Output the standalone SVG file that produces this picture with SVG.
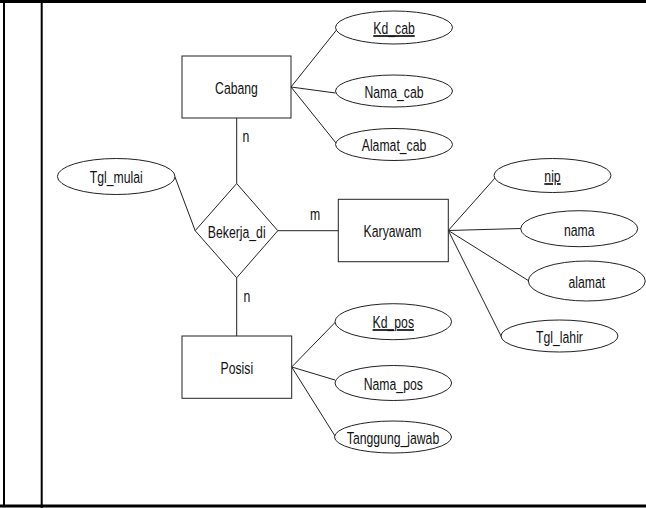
<svg xmlns="http://www.w3.org/2000/svg" width="646" height="508" viewBox="0 0 646 508">
  <style>
    .frame { stroke: #000; fill: none; }
    .ent { fill: #fff; stroke: #222; stroke-width: 1; }
    .attr { fill: #fff; stroke: #222; stroke-width: 1; }
    .edge { stroke: #222; stroke-width: 1; fill: none; }
    text { font-family: "Liberation Sans", Arial, sans-serif; font-size: 17px; fill: #111; text-anchor: middle; }
    .key { text-decoration: underline; }
  </style>

  <rect width="646" height="508" fill="#fff"/>

  <!-- page frame -->
  <g id="frame" class="frame">
    <line x1="0" y1="1.5" x2="646" y2="1.5" stroke-width="3"/>
    <line x1="0" y1="506" x2="646" y2="506" stroke-width="3"/>
    <line x1="4" y1="0" x2="4" y2="506" stroke-width="2"/>
    <line x1="41.7" y1="0" x2="41.7" y2="508" stroke-width="2"/>
  </g>

  <!-- connectors -->
  <g id="connectors" class="edge">
    <line x1="291" y1="87" x2="336.5" y2="30"/>
    <line x1="291" y1="87" x2="335.5" y2="93"/>
    <line x1="291" y1="87" x2="336" y2="143"/>
    <line x1="236.7" y1="118" x2="236.7" y2="183.5"/>
    <line x1="175" y1="177" x2="195.2" y2="230.7"/>
    <line x1="277.8" y1="230.7" x2="338" y2="230.7"/>
    <line x1="236.7" y1="277.8" x2="236.7" y2="336"/>
    <line x1="448.3" y1="230.5" x2="495" y2="178"/>
    <line x1="448.3" y1="230.5" x2="521" y2="228.5"/>
    <line x1="448.3" y1="230.5" x2="529" y2="281"/>
    <line x1="448.3" y1="230.5" x2="502" y2="338"/>
    <line x1="291.7" y1="367" x2="335.5" y2="322"/>
    <line x1="291.7" y1="367" x2="335" y2="380"/>
    <line x1="291.7" y1="367" x2="335" y2="436"/>
  </g>

  <!-- cardinality labels (condensed via horizontal scale) -->
  <g id="labels">
    <text transform="translate(246,142) scale(0.72,1)">n</text>
    <text transform="translate(315,220) scale(0.72,1)">m</text>
    <text transform="translate(247,301.5) scale(0.72,1)">n</text>
  </g>

  <!-- entities -->
  <g id="cabang">
    <rect class="ent" x="182" y="56" width="109" height="62"/>
    <text transform="translate(236.5,94) scale(0.72,1)">Cabang</text>
  </g>
  <g id="karyawam">
    <rect class="ent" x="338.3" y="199.3" width="110" height="62.4"/>
    <text transform="translate(392.5,237) scale(0.72,1)">Karyawam</text>
  </g>
  <g id="posisi">
    <rect class="ent" x="182" y="336" width="109.7" height="62.3"/>
    <text transform="translate(236.8,373.5) scale(0.72,1)">Posisi</text>
  </g>

  <!-- relationship -->
  <g id="bekerja_di">
    <polygon class="ent" points="236.7,183.5 277.8,230.7 236.7,277.8 195.2,230.7"/>
    <text transform="translate(236.7,237.5) scale(0.72,1)">Bekerja_di</text>
  </g>

  <!-- attributes -->
  <g id="kd_cab">
    <ellipse class="attr" cx="394" cy="27.5" rx="58.5" ry="16.5"/>
    <text class="key" transform="translate(394,34) scale(0.72,1)">Kd_cab</text>
  </g>
  <g id="nama_cab">
    <ellipse class="attr" cx="394" cy="91" rx="58.5" ry="16"/>
    <text transform="translate(394,97.5) scale(0.72,1)">Nama_cab</text>
  </g>
  <g id="alamat_cab">
    <ellipse class="attr" cx="394" cy="144.5" rx="58.5" ry="16"/>
    <text transform="translate(394,151) scale(0.72,1)">Alamat_cab</text>
  </g>
  <g id="tgl_mulai">
    <ellipse class="attr" cx="116.2" cy="176.5" rx="58.8" ry="18"/>
    <text transform="translate(116.2,183) scale(0.72,1)">Tgl_mulai</text>
  </g>
  <g id="nip">
    <ellipse class="attr" cx="552.5" cy="175.5" rx="58.5" ry="17"/>
    <text class="key" transform="translate(552.5,182) scale(0.72,1)">nip</text>
  </g>
  <g id="nama">
    <ellipse class="attr" cx="579.2" cy="228.7" rx="58.5" ry="18"/>
    <text transform="translate(579.2,235.5) scale(0.72,1)">nama</text>
  </g>
  <g id="alamat">
    <ellipse class="attr" cx="586.8" cy="281" rx="58.5" ry="20"/>
    <text transform="translate(586.8,287.5) scale(0.72,1)">alamat</text>
  </g>
  <g id="tgl_lahir">
    <ellipse class="attr" cx="559.5" cy="336" rx="58.5" ry="16"/>
    <text transform="translate(559.5,342.5) scale(0.72,1)">Tgl_lahir</text>
  </g>
  <g id="kd_pos">
    <ellipse class="attr" cx="393.3" cy="321.7" rx="58.3" ry="18"/>
    <text class="key" transform="translate(393.3,328) scale(0.72,1)">Kd_pos</text>
  </g>
  <g id="nama_pos">
    <ellipse class="attr" cx="393.3" cy="383" rx="58.3" ry="17.5"/>
    <text transform="translate(393.3,389.5) scale(0.72,1)">Nama_pos</text>
  </g>
  <g id="tanggung_jawab">
    <ellipse class="attr" cx="393" cy="437" rx="58.5" ry="16"/>
    <text transform="translate(393,443.5) scale(0.72,1)">Tanggung_jawab</text>
  </g>
</svg>
